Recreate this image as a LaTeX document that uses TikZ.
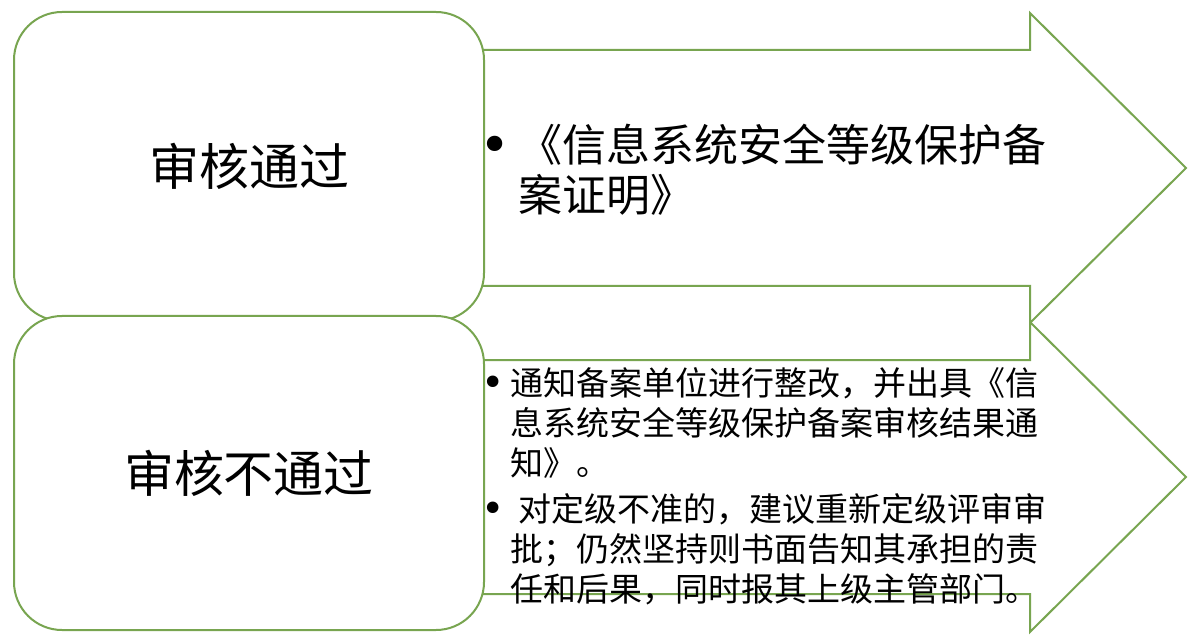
\documentclass[tikz,border=0pt]{standalone}
\usepackage{fontspec}
\usepackage{graphicx}
\setmainfont{Noto Sans CJK SC}
\newfontfamily\dotfont{DejaVu Sans}
\definecolor{boxgreen}{RGB}{120,165,80}
\newcommand{\bul}[1]{\leavevmode\llap{\makebox[#1]{\dotfont\raisebox{-0.04em}{\scalebox{1.2}{•}}}}}

\begin{document}
\begin{tikzpicture}[x=0.5pt,y=-0.5pt,
  stagebox/.style={draw=boxgreen, line width=1pt, fill=white, rounded corners=24pt,
    minimum width=235pt, inner sep=0pt, font=\fontsize{25pt}{30pt}\selectfont},
  arrowshape/.style={draw=boxgreen, line width=1pt, fill=white},
  bigtext/.style={anchor=base west, inner sep=0pt, text width=280pt, align=left,
    font=\fontsize{22pt}{25pt}\selectfont},
  smalltext/.style={anchor=base west, inner sep=0pt, text width=280pt, align=left,
    font=\fontsize{16.5pt}{20pt}\selectfont}]
\useasboundingbox (0,0) rectangle (1196,642);

% arrows behind the boxes
\draw[arrowshape] (249,50) -- (1030,50) -- (1030,13) -- (1186,168) -- (1030,323) -- (1030,286) -- (249,286) -- cycle;
\draw[arrowshape] (249,360) -- (1030,360) -- (1030,322) -- (1186,477) -- (1030,632) -- (1030,594) -- (249,594) -- cycle;

% boxes
\node[stagebox, minimum height=154.5pt] (pass) at (249,166.5) {审核通过};
\node[stagebox, minimum height=157pt] (fail) at (249,473) {审核不通过};

% notes
\node[bigtext] (passnote) at (518,162) {\bul{23pt}《信息系统安全等级保护备\\案证明》};
\node[smalltext] (failnote) at (510,395.5) {\bul{17pt}通知备案单位进行整改，并出具《信\\息系统安全等级保护备案审核结果通\\知》。\par\vspace{3pt}
  \bul{17pt}\hspace{4pt}对定级不准的，建议重新定级评审审\\批；仍然坚持则书面告知其承担的责\\任和后果，同时报其上级主管部门。};
\end{tikzpicture}
\end{document}
